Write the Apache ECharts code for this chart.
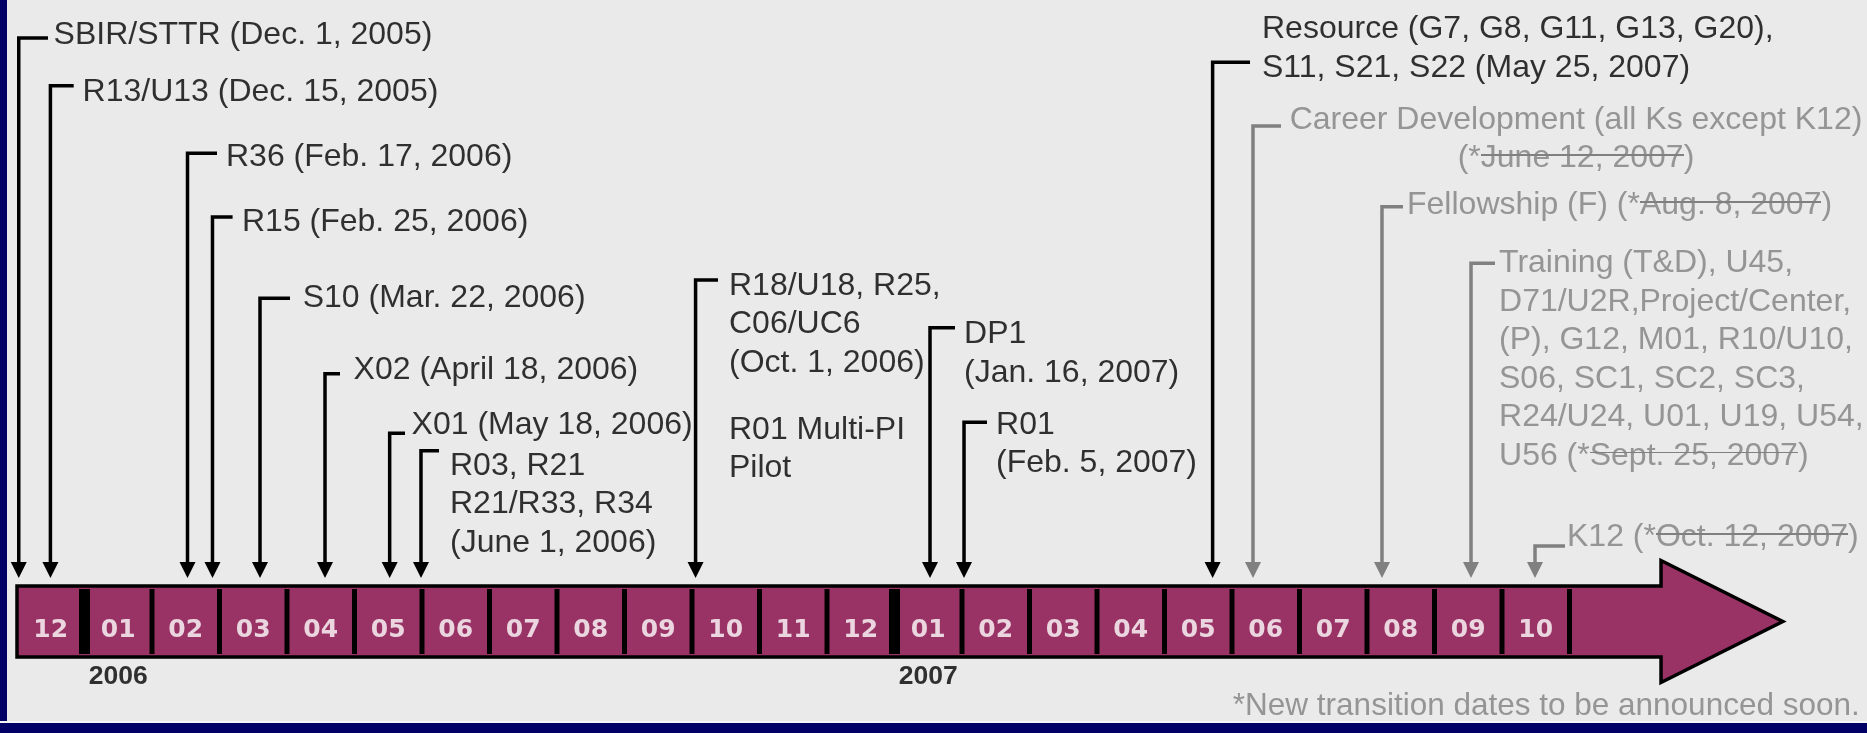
<!DOCTYPE html>
<html>
<head>
<meta charset="utf-8">
<script src="https://cdn.jsdelivr.net/npm/echarts/dist/echarts.min.js"></script>
<style>
html,body{margin:0;padding:0;background:#EAEAEA;}
#chart{width:1867px;height:733px;}
</style>
</head>
<body>
<div id="chart"></div>
<script>
// ================= DATA =================
// Month cells on the timeline (Dec 2005 .. Oct 2007)
const monthLabels = ['12','01','02','03','04','05','06','07','08','09','10','11','12',
                     '01','02','03','04','05','06','07','08','09','10'];
// Year captions and the cell index (month position) of each January
const yearLabels = ['2006', '2007'];
const yearStartCell = [1, 13];

// Transition events: text, and where the pointer hits the timeline (months since Dec 1, 2005)
const eventTexts = [
  'SBIR/STTR (Dec. 1, 2005)',
  'R13/U13 (Dec. 15, 2005)',
  'R36 (Feb. 17, 2006)',
  'R15 (Feb. 25, 2006)',
  'S10 (Mar. 22, 2006)',
  'X02 (April 18, 2006)',
  'X01 (May 18, 2006)',
  'R03, R21\nR21/R33, R34\n(June 1, 2006)',
  'R18/U18, R25,\nC06/UC6\n(Oct. 1, 2006)',
  'DP1\n(Jan. 16, 2007)',
  'R01\n(Feb. 5, 2007)',
  'Resource (G7, G8, G11, G13, G20),\nS11, S21, S22 (May 25, 2007)',
  'Career Development (all Ks except K12)\n(*{s|June 12, 2007})',
  'Fellowship (F) (*{s|Aug. 8, 2007})',
  'Training (T&D), U45,\nD71/U2R,Project/Center,\n(P), G12, M01, R10/U10,\nS06, SC1, SC2, SC3,\nR24/U24, U01, U19, U54,\nU56 (*{s|Sept. 25, 2007})',
  'K12 (*{s|Oct. 12, 2007})'
];
const eventMonth = [0.026, 0.495, 2.526, 2.896, 3.600, 4.563, 5.521, 5.985,
                    10.053, 13.526, 14.030, 17.713, 18.311, 20.222, 21.541, 22.489];
// true = date postponed (drawn in grey)
const eventPending = [false,false,false,false,false,false,false,false,
                      false,false,false,false,true,true,true,true];

const sideNote = 'R01 Multi-PI\nPilot';
const footnote = '*New transition dates to be announced soon.';

// ================= LAYOUT (annotation placement, in axis units) =================
const hookLevel    = [94.8, 88.3, 79.1, 70.4, 59.3, 49.0, 40.9, 38.5, 61.8, 55.3, 42.4, 91.5, 82.8, 71.8, 64.1, 25.5];
const textLevel    = [95.5, 87.7, 78.9, 70.0, 59.6, 49.9, 42.3, 36.8, 61.3, 54.7, 42.4, 96.3, 84.0, 72.3, 64.4, 27.0];
const hookEndMonth = [0.459, 0.840, 2.963, 3.194, 4.044, 4.785, 5.748, 6.252, 10.385, 13.896, 14.370, 18.267, 18.726, 20.533, 21.896, 22.933];
const textMonth    = [0.542, 0.972, 3.096, 3.333, 4.233, 4.987, 5.846, 6.415, 10.548, 14.030, 14.504, 18.444, 23.096, 20.593, 21.956, 22.963];
const textAlignOf  = ['left','left','left','left','left','left','left','left','left','left','left','left','center','left','left','left'];
const sideNotePos  = [10.548, 41.7];

const BAR = { start: 0, bodyEnd: 24.356, tip: 26.16, top: 20.05, bottom: 10.37, headTop: 23.53, headBottom: 6.89 };
const MONTH_LEVEL = 13.95, YEAR_LEVEL = 7.64, TIP_LEVEL = 21.15, FOOT_POS = [27.30, 3.96];

const X_MIN = -17 / 67.5, X_MAX = (1867 - 17) / 67.5;

const BLACK = '#000000', GRAY = '#808080', MAROON = '#993366', NAVY = '#000066';
const FONT = '"Liberation Sans", Arial, Helvetica, sans-serif';
const FS = 32, FOOT_FS = 31.5, LH = 38.5, TEXT_SHIFT = 2.5;

// strike-through image used as rich-text background
const strike = document.createElement('canvas');
strike.width = 10; strike.height = 385;
(function () {
  const c = strike.getContext('2d');
  c.fillStyle = GRAY;
  c.fillRect(0, 192 - 40 - 10, 10, 20);
})();

const richStyles = {
  s: { color: GRAY, fontFamily: FONT, fontSize: FS, lineHeight: LH, backgroundColor: { image: strike } }
};

// ================= CHART =================
const chart = echarts.init(document.getElementById('chart'), null, { renderer: 'canvas' });

const option = {
  animation: false,
  backgroundColor: '#EAEAEA',
  grid: { left: 0, right: 0, top: 0, bottom: 0, containLabel: false },
  xAxis: { type: 'value', min: X_MIN, max: X_MAX, show: false },
  yAxis: { type: 'value', min: 0, max: 100, show: false },
  graphic: [
    { type: 'rect', left: 0, top: 0, shape: { width: 7, height: 733 }, style: { fill: NAVY }, z: 100 },
    { type: 'rect', left: 0, top: 721, shape: { width: 1867, height: 2 }, style: { fill: '#F6F6F6' }, z: 100 },
    { type: 'rect', left: 0, top: 723, shape: { width: 1867, height: 10 }, style: { fill: NAVY }, z: 100 }
  ],
  series: [
    // timeline arrow
    {
      type: 'custom', z: 1, silent: true,
      data: [[BAR.start, BAR.top]],
      renderItem: function (params, api) {
        const mid = (BAR.top + BAR.bottom) / 2;
        const pts = [
          [BAR.start, BAR.top], [BAR.bodyEnd, BAR.top], [BAR.bodyEnd, BAR.headTop],
          [BAR.tip, mid], [BAR.bodyEnd, BAR.headBottom], [BAR.bodyEnd, BAR.bottom], [BAR.start, BAR.bottom]
        ].map(p => api.coord(p));
        return { type: 'polygon', shape: { points: pts }, style: { fill: MAROON, stroke: BLACK, lineWidth: 3.5, lineJoin: 'miter' } };
      }
    },
    // month separators
    {
      type: 'custom', z: 2, silent: true,
      data: monthLabels.map((m, i) => [i + 1, yearStartCell.indexOf(i + 1) >= 0 ? 1 : 0]),
      renderItem: function (params, api) {
        const x = api.value(0);
        const t = api.coord([x, BAR.top]);
        const b = api.coord([x, BAR.bottom]);
        const w = api.value(1) ? 11 : 5;
        return { type: 'rect', shape: { x: t[0] - w / 2, y: t[1] + 3, width: w, height: b[1] - t[1] - 6 }, style: { fill: BLACK } };
      }
    },
    // month labels
    {
      type: 'scatter', z: 3, silent: true, symbolSize: 0,
      data: monthLabels.map((m, i) => [i + 0.5, MONTH_LEVEL]),
      label: {
        show: true, position: [0, 0], align: 'center', verticalAlign: 'middle',
        formatter: p => monthLabels[p.dataIndex],
        color: '#FFFFFF', fontFamily: '"DejaVu Sans", Verdana, sans-serif', fontWeight: 'bold', fontSize: 25
      }
    },
    // year labels
    {
      type: 'scatter', z: 3, silent: true, symbolSize: 0,
      data: yearStartCell.map(c => [c + 0.5, YEAR_LEVEL]),
      label: {
        show: true, position: [0, 0], align: 'center', verticalAlign: 'middle',
        formatter: p => yearLabels[p.dataIndex],
        color: BLACK, fontFamily: FONT, fontWeight: 'bold', fontSize: 26.5
      }
    },
    // pointers
    {
      type: 'custom', z: 4, silent: true,
      data: eventMonth.map((m, i) => [m, hookLevel[i], hookEndMonth[i], eventPending[i] ? 1 : 0]),
      renderItem: function (params, api) {
        const a = api.coord([api.value(0), api.value(1)]);
        const h = api.coord([api.value(2), api.value(1)]);
        const t = api.coord([api.value(0), TIP_LEVEL]);
        const color = api.value(3) ? GRAY : BLACK;
        return {
          type: 'group',
          children: [
            { type: 'polyline', shape: { points: [[h[0], a[1]], [a[0], a[1]], [a[0], t[1] - 12]] },
              style: { stroke: color, lineWidth: 3.5, fill: null, lineJoin: 'miter', lineCap: 'butt' } },
            { type: 'polygon', shape: { points: [[t[0], t[1]], [t[0] - 8, t[1] - 16], [t[0] + 8, t[1] - 16]] },
              style: { fill: color } }
          ]
        };
      }
    },
    // event texts
    {
      type: 'scatter', z: 5, silent: true, symbolSize: 0,
      data: eventTexts.map((txt, i) => ({
        value: [textMonth[i], textLevel[i]],
        label: { align: textAlignOf[i], color: eventPending[i] ? GRAY : BLACK }
      })),
      label: {
        show: true, position: [0, 0], offset: [0, -LH / 2 + TEXT_SHIFT], verticalAlign: 'top',
        formatter: p => eventTexts[p.dataIndex],
        fontFamily: FONT, fontSize: FS, lineHeight: LH, rich: richStyles
      }
    },
    // side note and footnote
    {
      type: 'scatter', z: 5, silent: true, symbolSize: 0,
      data: [
        { value: sideNotePos, label: { align: 'left', color: BLACK, fontSize: FS, formatter: sideNote } },
        { value: FOOT_POS, label: { align: 'right', color: GRAY, fontSize: FOOT_FS, formatter: footnote } }
      ],
      label: {
        show: true, position: [0, 0], offset: [0, -LH / 2 + TEXT_SHIFT], verticalAlign: 'top',
        fontFamily: FONT, fontSize: FS, lineHeight: LH
      }
    }
  ]
};
chart.setOption(option);
</script>
</body>
</html>
